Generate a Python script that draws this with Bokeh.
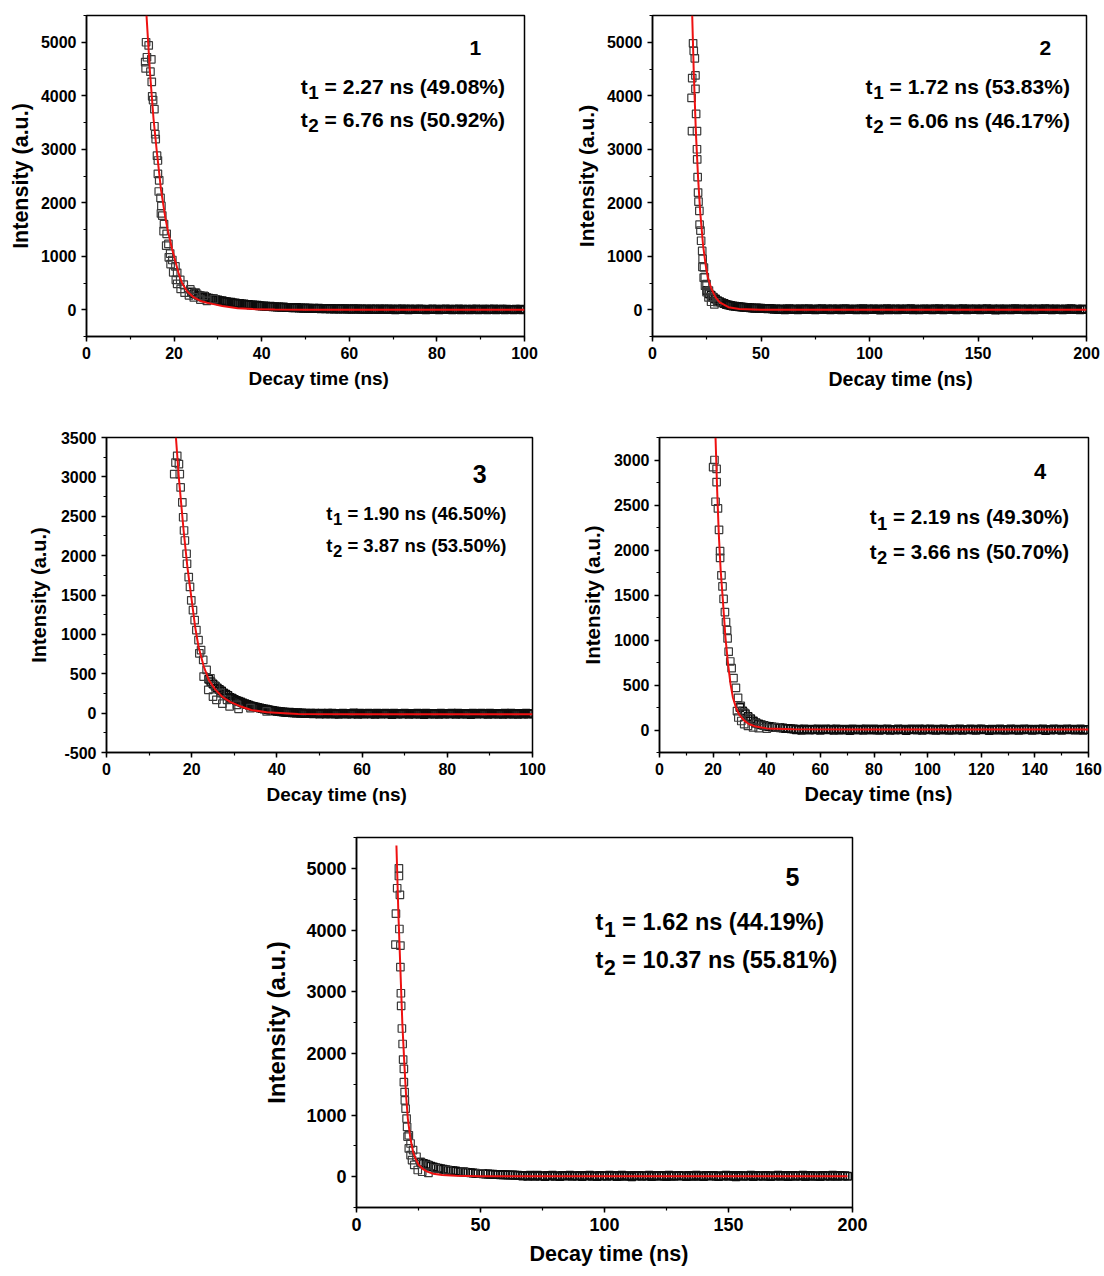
from bokeh.plotting import figure
from bokeh.layouts import row, column
from bokeh.models import Range1d, Label, SingleIntervalTicker, Spacer, NumeralTickFormatter, Title
from bokeh.embed import file_html
from bokeh.resources import INLINE

FONT = "Liberation Sans"

# ---------------- Panel 1 ----------------
t1_decay = [13.6, 14.2, 13.8, 13.4, 13.5, 14.8, 14.6, 14.9, 15.0, 15.2, 15.5, 15.5, 15.7, 15.8, 16.1, 16.3,
            16.3, 16.6, 16.5, 16.9, 17.1, 17.3, 17.7, 18.3, 18.7, 19.1, 19.6, 20.3, 20.7, 21.4, 22.2, 23.7,
            24.9, 26.8, 29.1,
            17.0, 17.6, 18.2, 18.8, 19.2, 19.8, 20.4, 20.7, 21.5, 22.4, 23.4, 24.5, 26.0, 27.5]
i1_decay = [5000, 4940, 4720, 4630, 4510, 4680, 4450, 4260, 3990, 3920, 3750, 3430, 3280, 3190, 2880, 2790,
            2540, 2420, 2210, 2090, 1940, 1760, 1600, 1420, 1230, 1050, 930, 810, 690, 560, 470, 380,
            320, 260, 200,
            1800, 1470, 1200, 980, 853, 700, 560, 485, 390, 320, 270, 230, 190, 165]
# tail channels from 24 ns, every 0.5 ns
i1_tail = [330, 300, 310, 270, 262, 240, 248, 222, 215, 200, 205, 185, 180, 170,
           168, 155, 150, 140, 142, 128, 125, 118, 115, 106, 108, 98, 96, 90, 88, 82, 84, 76, 72, 70,
           66, 62, 64, 56, 58, 52, 50, 48, 50, 42, 44, 40, 38, 36, 40, 32, 34, 30, 32, 28,
           30, 24, 28, 22, 26, 20, 24, 18, 22, 16, 22, 14, 20, 16, 18, 12, 20, 14, 16, 10,
           18, 12, 16, 8, 16, 10, 14, 6, 16, 10, 12, 4, 14, 8, 12, 6, 14, 10, 8, 2,
           12, 6, 14, 8, 10, 2, 12, 6, 10, 4, 12, 8, 6, 0, 10, 4, 12, 6, 8, 2,
           10, 4, 12, 6, 8, 0, 10, 4, 12, 2, 8, 6, 10, 0, 8, 4, 12, 2, 6, 8,
           10, 2, 8, 4, 12, 0, 6, 8, 10, 2, 8, 4, 6, 0, 10, 4, 8, 2, 6]
t1_tail = [24 + 0.5 * k for k in range(len(i1_tail))]
t1_fit = [13.7, 14.5, 15.3, 16.0, 17.0, 18.0, 18.6, 19.5, 20.3, 21.0, 21.8, 23.0, 24.5, 26.0, 27.5, 29.0,
          31.0, 34.5, 38, 43, 50, 60, 80, 100]
i1_fit = [5500, 4430, 3570, 3000, 2250, 1720, 1470, 1150, 900, 690, 500, 340, 230, 165, 130, 105,
          70, 28, 12, 4, 0, -2, -2, -2]

# ---------------- Panel 2 ----------------
t2_decay = [18.7, 19.0, 19.5, 19.8, 18.3, 19.8, 18.0, 20.1, 18.2, 20.5, 20.5, 20.6, 20.8, 21.0, 21.2, 21.6,
            21.7, 22.1, 22.4, 22.9, 23.1, 23.7, 24.1, 24.9, 26.0, 27.5, 29.8,
            23.0, 23.6, 24.2, 24.9, 25.8, 27.0, 28.5]
i2_decay = [4980, 4840, 4700, 4380, 4330, 4130, 3960, 3660, 3340, 3340, 3000, 2810, 2480, 2190, 2020, 1850,
            1590, 1480, 1290, 1100, 950, 790, 610, 480, 360, 235, 140,
            800, 600, 450, 330, 230, 150, 100]
# tail channels from 25 ns, every 1 ns
i2_tail = [360, 300, 270, 235, 200, 170, 150, 130, 115, 100,
           90, 80, 72, 66, 60, 55, 50, 46, 42, 40,
           36, 34, 30, 32, 26, 28, 22, 24, 20, 22,
           18, 8, 14, 4, 16, 10, 2, 12, 20, 6,
           10, 14, 0, 16, 8, 12, 4, 18, 6, 10,
           2, 14, 10, 20, 4, 8, 16, 0, 12, 6,
           14, 8, -2, 12, 18, 4, 10, 6, 16, 2,
           8, 12, 20, 0, 10, 14, 4, 16, 6, 12,
           -4, 10, 8, 18, 2, 14, 6, 12, 0, 16,
           8, 4, 14, 10, 20, 2, 12, 6, -2, 10,
           16, 8, 4, 12, 0, 14, 10, 18, 6, 2,
           12, 8, 16, 4, 10, -2, 14, 6, 20, 8,
           2, 12, 10, 4, 16, 8, 0, 14, 6, 18,
           10, 4, 12, -4, 8, 16, 2, 10, 14, 6,
           0, 12, 18, 8, 4, 14, 10, 2, 16, 6,
           12, -2, 8, 14, 4, 10, 20, 6, 12, 0,
           8, 16, 4, 10, 2, 14, 6, 12, 18, 8,
           4, 10, 0, 12, 6]
t2_tail = [25 + 1.0 * k for k in range(len(i2_tail))]
t2_fit = [18.3, 19, 20, 21, 22, 23.3, 24.5, 25.5, 27, 29, 31, 35, 40, 50, 100, 200]
i2_fit = [5500, 4460, 3310, 2470, 1820, 1210, 835, 607, 405, 235, 139, 48, 12, 0, 0, 0]

# ---------------- Panel 3 ----------------
t3_decay = [16.6, 16.2, 17.0, 15.9, 17.2, 17.4, 17.8, 18.0, 18.2, 18.4, 18.8, 18.9, 19.3, 19.6, 19.9, 20.3,
            20.7, 21.1, 21.6, 22.2, 22.7, 23.5, 24.4, 25.6, 26.8, 28.3, 30.6, 33.8, 37.6,
            21.8, 22.8, 23.9, 25.0, 25.8, 27.2, 28.9, 31.0]
i3_decay = [3267, 3182, 3162, 3035, 3035, 2866, 2677, 2487, 2319, 2192, 2024, 1897, 1728, 1602, 1433, 1307,
            1180, 1054, 928, 801, 675, 548, 443, 338, 254, 169, 106, 64, 21,
            760, 464, 296, 210, 169, 120, 85, 55]
# tail channels from 24 ns, every 0.5 ns
i3_tail = [430, 400, 370, 345, 320, 300, 280, 255, 240, 225, 200, 190, 172, 160,
           150, 140, 128, 118, 110, 100, 92, 85, 78, 70, 64, 58, 52, 48, 42, 38, 32, 28, 24, 20,
           18, 14, 12, 8, 10, 4, 6, 2, 4, 0, 2, -4, 0, -6, -2, -8, 0, -4, -10, -2,
           -6, -12, -2, -8, 0, -10, -4, -14, -6, 0, -8, -12, -4, -10, 2, -6, -14, -2, -8, -12,
           -4, 0, -10, -6, -14, -2, -8, -12, -4, 0, -10, -6, -16, -2, -8, -12, -4, -10, 0, -6,
           -14, -4, -8, -12, -2, -10, -6, -16, 0, -8, -12, -4, -10, -6, -14, -2, -8, -12, -4, -10,
           0, -6, -14, -2, -8, -12, -4, -10, -6, -16, -2, -8, -12, -4, 0, -10, -6, -14, -2, -8,
           -12, -4, -10, -6, -14, 0, -8, -12, -2, -10, -6, -14, -4, -8, -12, -2, -10, -6, -8]
t3_tail = [24 + 0.5 * k for k in range(len(i3_tail))]
t3_fit = [16.3, 17, 18.1, 19, 19.9, 20.8, 21.6, 22.8, 24, 25.5, 27.1, 29, 31.5, 34, 37.6, 45, 60, 100]
i3_fit = [3500, 2980, 2319, 1850, 1476, 1097, 843, 597, 422, 302, 211, 142, 85, 40, 10, -10, -15, -15]

# ---------------- Panel 4 ----------------
t4_decay = [20.5, 20.0, 21.3, 21.3, 20.9, 21.8, 22.2, 22.6, 22.6, 23.1, 23.5, 23.9, 24.4, 24.8, 25.2, 25.4,
            25.8, 26.4, 26.9, 27.6, 28.5, 29.3, 30.3, 31.6, 33.4, 35.8, 38.9, 43.9,
            28.9, 29.4, 30.5, 31.6, 33.0, 34.9, 37.0, 40.0]
i4_decay = [3000, 2920, 2901, 2755, 2536, 2462, 2224, 1987, 1913, 1719, 1595, 1456, 1310, 1200, 1109, 1017,
            870, 761, 687, 577, 468, 358, 267, 193, 132, 72, 47, 29,
            210, 139, 100, 66, 45, 29, 20, 15]
# tail channels from 30 ns, every 1 ns
i4_tail = [250, 210, 180, 150, 125, 100, 80, 68, 58, 50,
           42, 38, 34, 30, 28, 24, 22, 18, 16, 14,
           12, 4, 8, -2, 10, 6, 0, 8, 2, 12,
           -4, 6, 10, 2, 8, -2, 12, 4, 0, 8,
           6, -6, 10, 4, 2, 8, -2, 12, 6, 0,
           10, 2, -4, 8, 4, 12, -2, 6, 0, 10,
           4, 8, -6, 2, 10, 6, 0, 12, -2, 8,
           2, 10, 4, -4, 8, 0, 12, 6, -2, 4,
           8, 0, 10, -4, 6, 2, 12, 4, -2, 8,
           10, 2, 6, -6, 8, 4, 0, 12, 2, -2,
           6, 10, 0, 8, -4, 4, 12, 2, 8, -2,
           4, 8, 2, 10, -6, 6, 0, 12, 4, 8,
           -2, 6, 10, 2, 8, 0, 4, 12, -4, 6]
t4_tail = [30 + 1.0 * k for k in range(len(i4_tail))]
t4_fit = [20.9, 21.5, 22.1, 22.8, 23.6, 24.6, 25.6, 26.5, 27.4, 28.5, 29.6, 31.5, 33.3, 36, 40, 50, 80, 160]
i4_fit = [3248, 2667, 2188, 1780, 1456, 1026, 724, 509, 358, 251, 176, 107, 66, 38, 18, 8, 5, 5]

# ---------------- Panel 5 ----------------
t5_decay = [17.1, 17.1, 16.4, 17.5, 15.9, 17.3, 15.7, 17.7, 17.7, 17.9, 18.0, 18.3, 18.6, 18.8, 19.1, 19.1,
            19.4, 19.5, 19.8, 20.2, 20.4, 21.1, 21.8, 22.8, 24.2, 25.8, 28.5, 31.9, 36.6, 43.3, 50.0,
            20.6, 21.1, 21.8, 22.4, 23.3, 24.7, 26.5, 29.0]
i5_decay = [5000, 4876, 4677, 4570, 4264, 4016, 3764, 3748, 3398, 2974, 2769, 2403, 2151, 1898, 1748, 1532,
            1371, 1237, 1103, 942, 806, 672, 538, 431, 323, 242, 189, 135, 108, 81, 54,
            650, 458, 350, 269, 190, 108, 80, 60]
# tail channels from 26 ns, every 1 ns
i5_tail = [230, 215, 200, 185, 170, 158, 145, 138, 128, 120,
           112, 106, 100, 95, 90, 85, 80, 76, 70, 66,
           62, 58, 55, 52, 50, 46, 44, 42, 40, 38,
           36, 34, 32, 30, 30, 28, 26, 26, 24, 22,
           20, 10, 18, 6, 22, 14, 8, 24, 12, 16,
           4, 18, 12, 22, 8, 16, 2, 20, 10, 14,
           24, 6, 16, 12, 20, 4, 18, 10, 22, 8,
           14, 2, 20, 12, 16, 6, 24, 10, 18, 4,
           12, 22, 8, 16, 14, 0, 20, 10, 18, 6,
           16, 12, 24, 4, 14, 20, 8, 18, 10, 2,
           22, 12, 6, 16, 20, 10, 14, 4, 18, 8,
           12, 24, 6, 16, 2, 20, 10, 14, 18, 8,
           4, 16, 12, 22, 6, 18, 10, 0, 20, 14,
           8, 16, 12, 24, 4, 18, 10, 14, 6, 20,
           12, 2, 16, 10, 22, 8, 14, 18, 4, 12,
           20, 6, 16, 10, 24, 2, 14, 18, 8, 12,
           16, 4, 20, 10, 14, 6, 22, 12, 8, 18,
           10, 14, 6]
t5_tail = [26 + 1.0 * k for k in range(len(i5_tail))]
t5_fit = [16.1, 16.9, 17.7, 18.5, 19.4, 20.0, 20.7, 21.7, 22.8, 23.9, 25.1, 26.7, 28.5, 31, 34.5, 40, 50, 100, 198]
i5_fit = [5370, 4250, 3361, 2470, 1748, 1313, 942, 628, 403, 281, 189, 127, 81, 48, 27, 15, 8, 5, 5]

# Panel texts
panel_ids = ["1", "2", "3", "4", "5"]
tau1_text = ["= 2.27 ns (49.08%)", "= 1.72 ns (53.83%)", "= 1.90 ns (46.50%)", "= 2.19 ns (49.30%)", "= 1.62 ns (44.19%)"]
tau2_text = ["= 6.76 ns (50.92%)", "= 6.06 ns (46.17%)", "= 3.87 ns (53.50%)", "= 3.66 ns (50.70%)", "= 10.37 ns (55.81%)"]
x_title = "Decay time (ns)"
y_title = "Intensity (a.u.)"


def make_panel(cfg):
    W, H, L, R, T, B = cfg["box"]
    x0, x1 = cfg["xr"]
    y0, y1 = cfg["yr"]
    p = figure(width=W, height=H, x_range=Range1d(x0, x1), y_range=Range1d(y0, y1),
               output_backend="svg", toolbar_location=None,
               min_border_left=L, min_border_right=R, min_border_top=T, min_border_bottom=B)
    p.background_fill_color = "white"
    p.border_fill_color = "white"
    p.outline_line_color = "black"
    p.outline_line_width = 1.5
    p.grid.visible = False

    p.xaxis.ticker = SingleIntervalTicker(interval=cfg["xmaj"], num_minor_ticks=2)
    p.yaxis.ticker = SingleIntervalTicker(interval=cfg["ymaj"], num_minor_ticks=2)
    p.xaxis.formatter = NumeralTickFormatter(format="0")
    p.yaxis.formatter = NumeralTickFormatter(format="0")
    for ax in (p.xaxis, p.yaxis):
        ax.axis_line_width = 1.5
        ax.axis_line_color = "black"
        ax.major_tick_line_width = 1.5
        ax.minor_tick_line_width = 1.2
        ax.major_tick_in = 0
        ax.major_tick_out = 5
        ax.minor_tick_in = 0
        ax.minor_tick_out = 3
        ax.major_label_text_font = FONT
        ax.major_label_text_font_style = "bold"
        ax.major_label_text_font_size = cfg["tick_fs"]
        ax.major_label_text_color = "black"
        ax.major_label_standoff = 5
        ax.axis_label_text_font = FONT
        ax.axis_label_text_font_style = "bold"
        ax.axis_label_text_color = "black"
    p.yaxis.axis_label = y_title
    p.yaxis.axis_label_text_font_size = cfg["ylab_fs"]
    p.yaxis.axis_label_standoff = cfg["ystand"]

    # x-axis title below the axis, positioned as in the original figure
    p.add_layout(Title(text=x_title, align="left", offset=cfg["xlab_off"], standoff=cfg["xstand"],
                       text_font=FONT, text_font_style="bold", text_font_size=cfg["xlab_fs"],
                       text_color="black"), "below")

    p.scatter(cfg["tail_t"], cfg["tail_i"], marker="square", size=7.5, fill_color=None,
              line_color="#0d0d0d", line_width=1.5)
    p.scatter(cfg["t"], cfg["i"], marker="square", size=7.5, fill_color=None,
              line_color="#3a3a3a", line_width=1.2)
    p.line(cfg["ft"], cfg["fi"], line_color="#ee1111", line_width=2)

    fw = W - L - R
    fh = H - T - B
    pxx = fw / (x1 - x0)
    pxy = fh / (y1 - y0)

    # annotations
    S = cfg["ann_fs"]
    k = cfg["k"]
    ny = cfg["num_xy"][1] + cfg["num_dy"] / pxy
    p.add_layout(Label(x=cfg["num_xy"][0], y=ny, text=panel_ids[k],
                       text_font=FONT, text_font_style="bold", text_font_size=f"{cfg['num_fs']}px",
                       text_align="center", text_baseline="alphabetic", text_color="black"))
    tx = cfg["tx"]
    for sub, rest, ty in (("1", tau1_text[k], cfg["ty"][0]), ("2", tau2_text[k], cfg["ty"][1])):
        ty = ty + cfg["t_dy"] / pxy
        p.add_layout(Label(x=tx, y=ty, text="t", text_font=FONT, text_font_style="bold",
                           text_font_size=f"{S}px", text_align="left", text_baseline="alphabetic",
                           text_color="black"))
        p.add_layout(Label(x=tx + 0.36 * S / pxx, y=ty - 0.30 * S / pxy, text=sub, text_font=FONT,
                           text_font_style="bold", text_font_size=f"{0.9 * S:.1f}px", text_align="left",
                           text_baseline="alphabetic", text_color="black"))
        p.add_layout(Label(x=tx + 1.14 * S / pxx, y=ty, text=rest, text_font=FONT, text_font_style="bold",
                           text_font_size=f"{S}px", text_align="left", text_baseline="alphabetic",
                           text_color="black"))
    return p


cfgs = [
    dict(k=0, box=(564, 418, 86, 40, 15, 78), xr=(0, 100), yr=(-500, 5500), xmaj=20, ymaj=1000,
         tick_fs="16px", xlab_fs="19px", ylab_fs="21.5px", xlab_off=162, xstand=8, ystand=5,
         t=t1_decay, i=i1_decay, tail_t=t1_tail, tail_i=i1_tail, ft=t1_fit, fi=i1_fit,
         ann_fs=21, num_fs=21, num_xy=(88.8, 4715), num_dy=10, tx=48.9, ty=(4050, 3425), t_dy=7),
    dict(k=1, box=(536, 418, 88, 14, 15, 82), xr=(0, 200), yr=(-500, 5500), xmaj=50, ymaj=1000,
         tick_fs="16px", xlab_fs="19.5px", ylab_fs="21px", xlab_off=176, xstand=9, ystand=6,
         t=t2_decay, i=i2_decay, tail_t=t2_tail, tail_i=i2_tail, ft=t2_fit, fi=i2_fit,
         ann_fs=21, num_fs=21, num_xy=(181, 4698), num_dy=10, tx=98.2, ty=(4028, 3395), t_dy=8),
    dict(k=2, box=(570, 400, 106, 38, 19, 65), xr=(0, 100), yr=(-500, 3500), xmaj=20, ymaj=500,
         tick_fs="16px", xlab_fs="19px", ylab_fs="20px", xlab_off=160, xstand=8, ystand=8,
         t=t3_decay, i=i3_decay, tail_t=t3_tail, tail_i=i3_tail, ft=t3_fit, fi=i3_fit,
         ann_fs=18.5, num_fs=25, num_xy=(87.6, 2909), num_dy=10, tx=51.6, ty=(2458, 2053), t_dy=6),
    dict(k=3, box=(532, 400, 89, 14, 16, 66), xr=(0, 160), yr=(-250, 3250), xmaj=20, ymaj=500,
         tick_fs="16px", xlab_fs="20px", ylab_fs="20.5px", xlab_off=145, xstand=7, ystand=7,
         t=t4_decay, i=i4_decay, tail_t=t4_tail, tail_i=i4_tail, ft=t4_fit, fi=i4_fit,
         ann_fs=20.5, num_fs=22, num_xy=(142, 2737), num_dy=12, tx=78.4, ty=(2279, 1895), t_dy=8),
    dict(k=4, box=(624, 458, 108, 20, 19, 69), xr=(0, 200), yr=(-500, 5500), xmaj=50, ymaj=1000,
         tick_fs="18px", xlab_fs="21.5px", ylab_fs="24px", xlab_off=173, xstand=13, ystand=13,
         t=t5_decay, i=i5_decay, tail_t=t5_tail, tail_i=i5_tail, ft=t5_fit, fi=i5_fit,
         ann_fs=23.5, num_fs=25, num_xy=(175.8, 4673), num_dy=11, tx=96.4, ty=(3979, 3361), t_dy=9),
]

panels = [make_panel(c) for c in cfgs]

layout = column(
    row(panels[0], panels[1]),
    row(panels[2], panels[3]),
    row(Spacer(width=248, height=458), panels[4]),
)

open("out.html", "w").write(file_html(layout, INLINE))
